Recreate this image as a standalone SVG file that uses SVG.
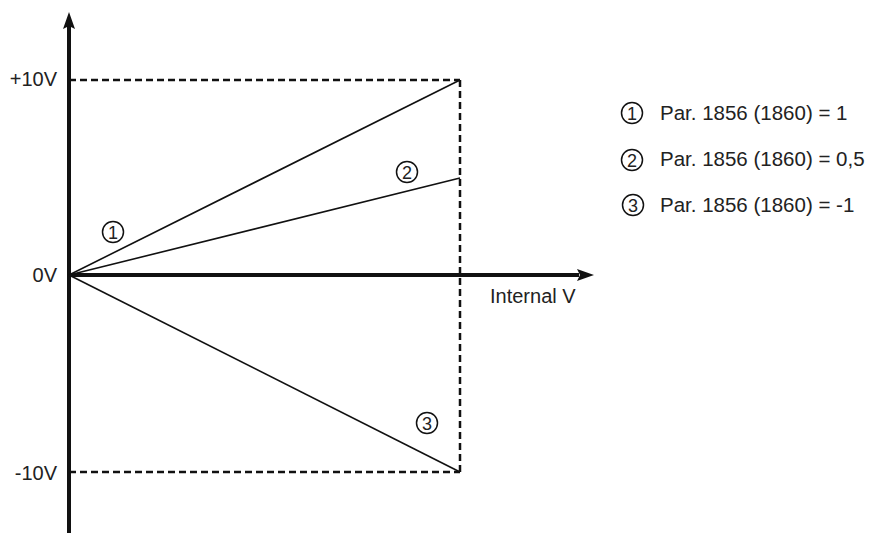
<svg xmlns="http://www.w3.org/2000/svg" width="871" height="533" viewBox="0 0 871 533">
<style>
text{font-family:"Liberation Sans",Arial,sans-serif;fill:#222;}
.lbl{font-size:20px;}
.leg{font-size:20.5px;}
.num{font-size:18px;text-anchor:middle;}
.axis{stroke:#111;stroke-width:4;fill:none;}
.dash{stroke:#111;stroke-width:2.5;stroke-dasharray:7,4;fill:none;}
.curve{stroke:#111;stroke-width:1.6;fill:none;}
.circ{stroke:#111;stroke-width:1.5;fill:none;}
</style>
<rect width="871" height="533" fill="#fff"/>
<g id="connectors">
<line class="dash" x1="69" y1="80" x2="460" y2="80"/>
<line class="dash" x1="69" y1="472" x2="460" y2="472"/>
<line class="dash" x1="460" y1="80" x2="460" y2="472"/>
<line class="axis" x1="69" y1="533" x2="69" y2="26"/>
<polygon points="69,12 63,29 69,26 75,29" fill="#111"/>
<line class="axis" x1="69" y1="275" x2="579" y2="275"/>
<polygon points="594,275 577,269 580,275 577,281" fill="#111"/>
<line class="curve" x1="69" y1="275" x2="460" y2="80"/>
<line class="curve" x1="69" y1="275" x2="460" y2="178"/>
<line class="curve" x1="69" y1="275" x2="460" y2="472"/>
</g>
<g id="axis-labels">
<text class="lbl" x="57" y="86" text-anchor="end">+10V</text>
<text class="lbl" x="57" y="282" text-anchor="end">0V</text>
<text class="lbl" x="57" y="480" text-anchor="end">-10V</text>
<text class="lbl" x="490" y="303">Internal V</text>
</g>
<g id="marker-1"><circle class="circ" cx="113" cy="232" r="10.5"/><text class="num" x="113" y="238.5">1</text></g>
<g id="marker-2"><circle class="circ" cx="407" cy="172" r="10.5"/><text class="num" x="407" y="178.5">2</text></g>
<g id="marker-3"><circle class="circ" cx="427" cy="423" r="10.5"/><text class="num" x="427" y="429.5">3</text></g>
<g id="legend-1"><circle class="circ" cx="632" cy="113" r="10.5"/><text class="num" x="632" y="119.5">1</text><text class="leg" x="660" y="120">Par. 1856 (1860) = 1</text></g>
<g id="legend-2"><circle class="circ" cx="632" cy="160" r="10.5"/><text class="num" x="632" y="166.5">2</text><text class="leg" x="660" y="166">Par. 1856 (1860) = 0,5</text></g>
<g id="legend-3"><circle class="circ" cx="633" cy="205" r="10.5"/><text class="num" x="633" y="211.5">3</text><text class="leg" x="660" y="212">Par. 1856 (1860) = -1</text></g>
</svg>
